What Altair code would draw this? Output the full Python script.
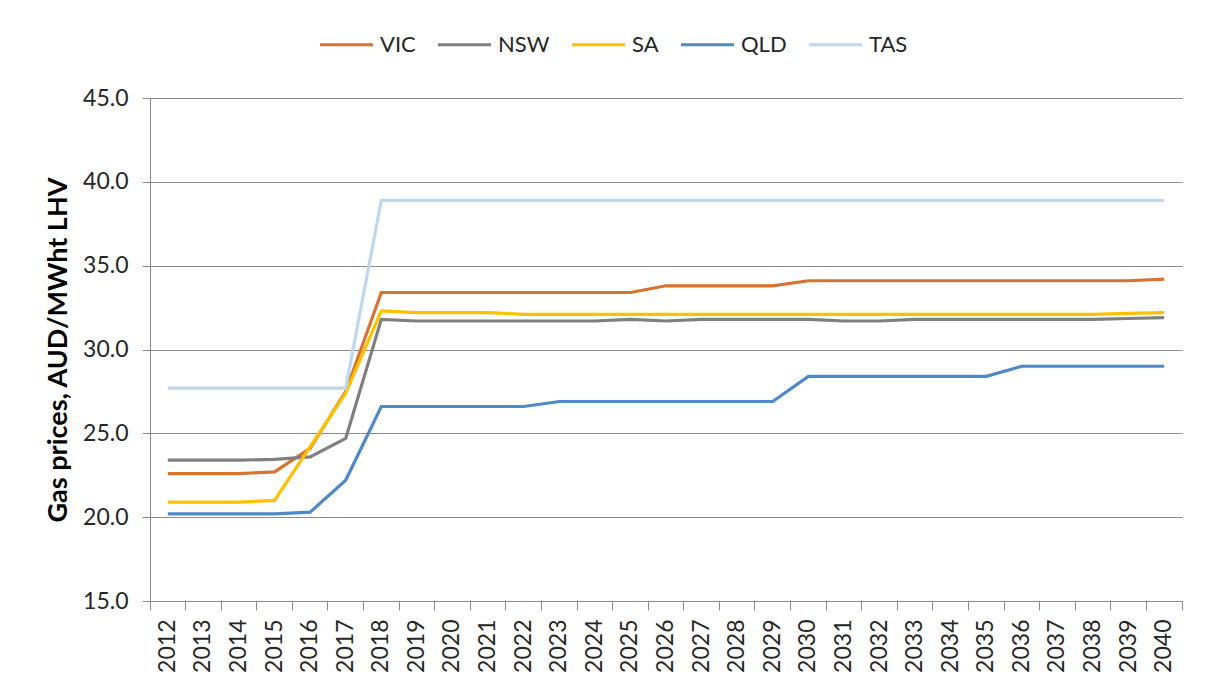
import altair as alt
import pandas as pd

years = [str(y) for y in range(2012, 2041)]

vic = [22.6, 22.6, 22.6, 22.7, 24.1, 27.5, 33.4,
       33.4, 33.4, 33.4, 33.4, 33.4, 33.4, 33.4,
       33.8, 33.8, 33.8, 33.8,
       34.1, 34.1, 34.1, 34.1, 34.1, 34.1, 34.1, 34.1, 34.1, 34.1,
       34.2]
nsw = [23.4, 23.4, 23.4, 23.45, 23.6, 24.7, 31.8,
       31.7, 31.7, 31.7, 31.7, 31.7, 31.7,
       31.8, 31.7, 31.8, 31.8, 31.8, 31.8,
       31.7, 31.7,
       31.8, 31.8, 31.8, 31.8, 31.8, 31.8,
       31.85, 31.9]
sa = [20.9, 20.9, 20.9, 21.0, 24.2, 27.4, 32.3,
      32.2, 32.2, 32.2,
      32.1, 32.1, 32.1, 32.1, 32.1, 32.1, 32.1, 32.1, 32.1, 32.1,
      32.1, 32.1, 32.1, 32.1, 32.1, 32.1, 32.1,
      32.15, 32.2]
qld = [20.2, 20.2, 20.2, 20.2, 20.3, 22.2,
       26.6, 26.6, 26.6, 26.6, 26.6,
       26.9, 26.9, 26.9, 26.9, 26.9, 26.9, 26.9,
       28.4, 28.4, 28.4, 28.4, 28.4, 28.4,
       29.0, 29.0, 29.0, 29.0, 29.0]
tas = [27.7] * 6 + [38.9] * 23

series = ["VIC", "NSW", "SA", "QLD", "TAS"]
colors = ["#D9712F", "#7F7F7F", "#FFC000", "#4F88C6", "#BDD7EE"]
y_ticks = [15, 20, 25, 30, 35, 40, 45]

rows = []
for name, vals in zip(series, [vic, nsw, sa, qld, tas]):
    for yr, v in zip(years, vals):
        rows.append({"year": yr, "region": name, "price": v})
df = pd.DataFrame(rows)

axis_gray = "#8C8C8C"

chart = alt.Chart(df).mark_line(strokeWidth=3.2).encode(
    x=alt.X(
        "year:O",
        bandPosition=0.5,
        scale=alt.Scale(type="band", paddingInner=0, paddingOuter=0),
        axis=alt.Axis(
            title=None,
            labelAngle=-90,
            bandPosition=1,
            tickExtra=True,
            tickSize=9,
            labelPadding=9,
            domainColor=axis_gray,
            tickColor=axis_gray,
            labelColor="#262626",
            labelFontSize=23,
            grid=False,
        ),
    ),
    y=alt.Y(
        "price:Q",
        scale=alt.Scale(domain=[15, 45], nice=False, zero=False),
        axis=alt.Axis(
            values=y_ticks,
            format=".1f",
            title="Gas prices, AUD/MWht LHV",
            titleFontWeight="bold",
            titleFontSize=27,
            titleColor="#000000",
            titlePadding=10,
            tickSize=8,
            labelPadding=14,
            labelFontSize=23,
            labelColor="#262626",
            domainColor=axis_gray,
            tickColor=axis_gray,
            gridColor=axis_gray,
            gridWidth=1,
        ),
    ),
    color=alt.Color(
        "region:N",
        sort=series,
        scale=alt.Scale(domain=series, range=colors),
        legend=alt.Legend(
            title=None,
            orient="none",
            direction="horizontal",
            legendX=168,
            legendY=-82,
            symbolType="stroke",
            symbolSize=2809,
            symbolStrokeWidth=3.2,
            labelOffset=5,
            columnPadding=15,
            labelFontSize=22,
            labelColor="#262626",
            padding=0,
        ),
    ),
).properties(
    width=1032,
    height=503,
    autosize=alt.AutoSizeParams(type="none"),
    padding={"left": 142, "top": 90, "right": 18, "bottom": 79},
    background="white",
).configure(
    font="Lato",
).configure_view(
    stroke=None,
)

chart.save("out.html", embed_options={"renderer": "svg", "actions": False})
